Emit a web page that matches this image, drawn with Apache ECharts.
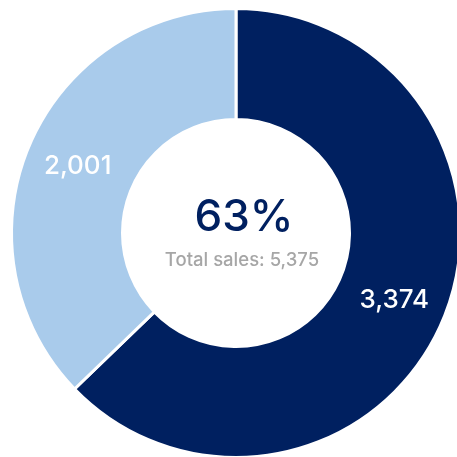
<!DOCTYPE html>
<html>
<head>
<meta charset="utf-8">
<style>
  html, body { margin: 0; padding: 0; background: #ffffff; }
  #chart { width: 457px; height: 457px; }
</style>
<script src="https://cdn.jsdelivr.net/npm/echarts@6/dist/echarts.min.js"></script>
</head>
<body>
<div id="chart"></div>
<script>
// Sales split shown as a donut, the share of the first segment in the middle
const categories = ['Segment A', 'Segment B'];
const salesValues = [3374, 2001];
const sliceColors = ['#002060', '#A9CBEB'];

const total = salesValues.reduce((a, b) => a + b, 0);
const share = Math.round(salesValues[0] / total * 100);
const fmt = (n) => n.toLocaleString('en-US');
const FONT = 'Inter, "Liberation Sans", Arial, sans-serif';

const chart = echarts.init(document.getElementById('chart'), null, { renderer: 'canvas' });

chart.setOption({
  animation: false,
  backgroundColor: '#ffffff',
  graphic: [
    {
      type: 'text',
      style: {
        text: share + '%',
        x: 0, y: 0,
        align: 'center', verticalAlign: 'middle',
        font: '500 44px ' + FONT,
        fill: '#002060'
      },
      position: [244, 218]
    },
    {
      type: 'text',
      style: {
        text: 'Total sales: ' + fmt(total),
        x: 0, y: 0,
        align: 'center', verticalAlign: 'middle',
        font: '500 18.5px ' + FONT,
        fill: '#A6A6A6'
      },
      position: [242, 260]
    }
  ],
  series: [{
    type: 'pie',
    center: [236, 233],
    radius: [113.5, 224.5],
    startAngle: 90,
    clockwise: true,
    avoidLabelOverlap: false,
    itemStyle: { borderColor: '#ffffff', borderWidth: 3 },
    label: {
      show: true,
      position: 'inside',
      color: '#ffffff',
      fontFamily: FONT,
      fontWeight: 500,
      fontSize: 26,
      formatter: (p) => fmt(p.value)
    },
    labelLine: { show: false },
    emphasis: { disabled: true },
    data: categories.map((name, i) => ({
      name,
      value: salesValues[i],
      itemStyle: { color: sliceColors[i] }
    }))
  }]
});
</script>
</body>
</html>
